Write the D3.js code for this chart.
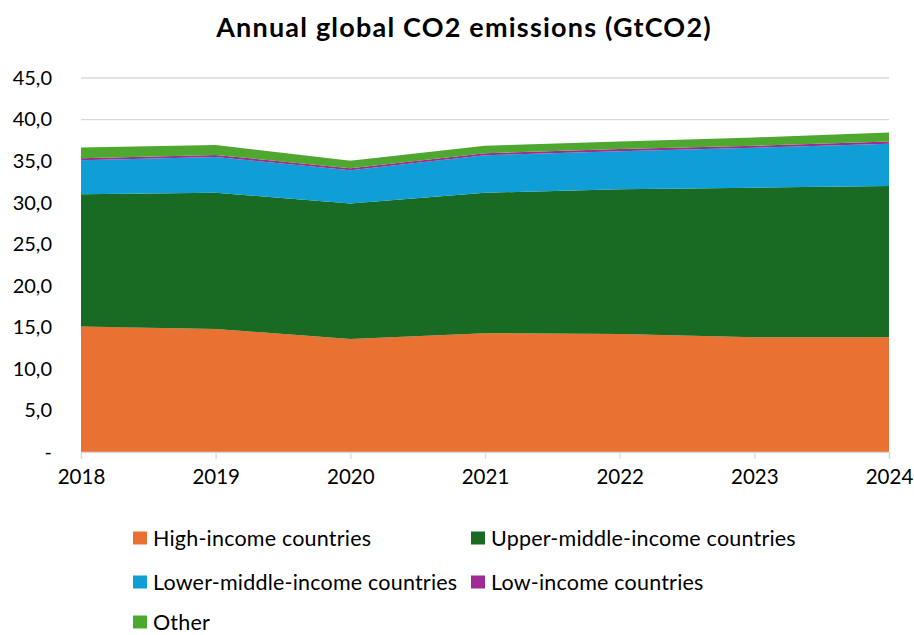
<!DOCTYPE html>
<html>
<head>
<meta charset="utf-8">
<script src="https://cdn.jsdelivr.net/npm/d3@7"></script>
<style>
  body { margin: 0; background: #fff; }
  svg { font-family: Lato, "Liberation Sans", sans-serif; }
</style>
</head>
<body>
<div id="chart"></div>
<script>
// chart data (GtCO2)
const years = ["2018", "2019", "2020", "2021", "2022", "2023", "2024"];
const highIncome = [15.1, 14.8, 13.6, 14.3, 14.2, 13.8, 13.8];
const upperMiddle = [15.9, 16.4, 16.3, 16.9, 17.4, 18.0, 18.2];
const lowerMiddle = [4.1, 4.3, 4.0, 4.5, 4.6, 4.8, 5.1];
const lowIncome = [0.25, 0.25, 0.25, 0.25, 0.25, 0.25, 0.25];
const other = [1.3, 1.2, 0.9, 0.9, 0.9, 1.0, 1.1];
const yTicks = [0, 5, 10, 15, 20, 25, 30, 35, 40, 45];

const seriesNames = ["High-income countries", "Upper-middle-income countries",
  "Lower-middle-income countries", "Low-income countries", "Other"];
const seriesValues = [highIncome, upperMiddle, lowerMiddle, lowIncome, other];
const colors = ["#E97132", "#196B24", "#0F9ED5", "#A02B93", "#4EA72E"];

const width = 914, height = 635;
const margin = { top: 78, right: 25, bottom: 183, left: 81 };

const rows = years.map((y, i) => {
  const r = { year: y };
  seriesNames.forEach((n, k) => { r[n] = seriesValues[k][i]; });
  return r;
});

const svg = d3.select("#chart").append("svg")
  .attr("width", width)
  .attr("height", height);

const x = d3.scalePoint()
  .domain(years)
  .range([margin.left, width - margin.right]);

const y = d3.scaleLinear()
  .domain([0, 45])
  .range([height - margin.bottom, margin.top]);

// title
svg.append("text")
  .attr("x", 464)
  .attr("y", 37)
  .attr("text-anchor", "middle")
  .attr("font-size", 27)
  .attr("font-weight", "bold")
  .attr("letter-spacing", 1.2)
  .text("Annual global CO2 emissions (GtCO2)");

// gridlines
svg.append("g")
  .selectAll("line")
  .data(yTicks.filter(d => d > 0))
  .join("line")
  .attr("x1", margin.left)
  .attr("x2", width - margin.right)
  .attr("y1", d => y(d))
  .attr("y2", d => y(d))
  .attr("stroke", "#d9d9d9")
  .attr("stroke-width", 1.3);

// stacked areas
const stack = d3.stack().keys(seriesNames);
const layers = stack(rows);

const area = d3.area()
  .x(d => x(d.data.year))
  .y0(d => y(d[0]))
  .y1(d => y(d[1]));

svg.append("g")
  .selectAll("path")
  .data(layers)
  .join("path")
  .attr("fill", (d, i) => colors[i])
  .attr("d", area);

// y axis labels
const yAxis = d3.axisLeft(y)
  .tickValues(yTicks)
  .tickSize(0)
  .tickPadding(29)
  .tickFormat(d => d === 0 ? "-" : d3.format(".1f")(d).replace(".", ","));

svg.append("g")
  .attr("transform", `translate(${margin.left},0)`)
  .call(yAxis)
  .call(g => g.select(".domain").remove())
  .call(g => g.selectAll("text")
    .attr("font-size", 20)
    .attr("fill", "#000")
    .attr("font-family", "Lato, sans-serif"));

// x axis
const xAxis = d3.axisBottom(x)
  .tickSize(7)
  .tickPadding(10);

svg.append("g")
  .attr("transform", `translate(0,${y(0)})`)
  .call(xAxis)
  .call(g => g.select(".domain").attr("stroke", "#d9d9d9").attr("stroke-width", 1.3))
  .call(g => g.selectAll(".tick line").attr("stroke", "#d9d9d9").attr("stroke-width", 1.3))
  .call(g => g.selectAll("text")
    .attr("font-size", 20.5)
    .attr("fill", "#000")
    .attr("font-family", "Lato, sans-serif"));

// legend
const legendPos = [
  { x: 133, y: 538 }, { x: 471, y: 538 },
  { x: 133, y: 582 }, { x: 471, y: 582 },
  { x: 133, y: 622 }
];

const legend = svg.append("g")
  .selectAll("g")
  .data(seriesNames)
  .join("g")
  .attr("transform", (d, i) => `translate(${legendPos[i].x},${legendPos[i].y})`);

legend.append("rect")
  .attr("x", 0)
  .attr("y", -6.5)
  .attr("width", 14)
  .attr("height", 13)
  .attr("fill", (d, i) => colors[i]);

legend.append("text")
  .attr("x", 20)
  .attr("y", 8)
  .attr("font-size", 21.5)
  .attr("letter-spacing", 0.2)
  .text(d => d);
</script>
</body>
</html>
